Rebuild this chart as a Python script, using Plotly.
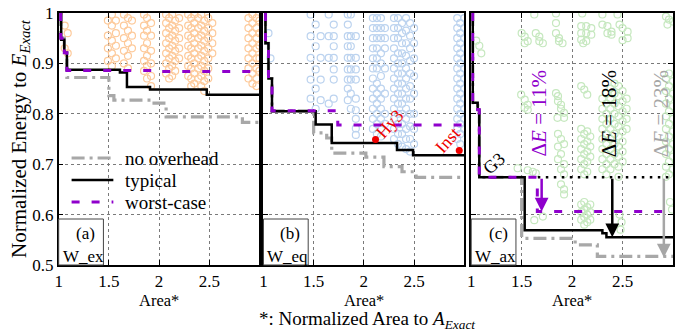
import plotly.graph_objects as go

FONT = "Liberation Serif, Times New Roman, serif"
W, H = 676, 332
PLOT_TOP, PLOT_BOT = 13, 265

# ---------------- Pareto fronts (step points: Area*, normalized energy) ----------------
ex_none_x = [1.02, 1.02, 1.056, 1.082, 1.50, 1.55, 1.93, 2.07, 2.83, 3.00]
ex_none_y = [1.00, 0.95, 0.921, 0.872, 0.836, 0.827, 0.821, 0.794, 0.783, 0.783]
ex_typ_x = [1.025, 1.025, 1.056, 1.082, 1.61, 1.68, 1.91, 2.475, 3.00]
ex_typ_y = [1.00, 0.947, 0.921, 0.8875, 0.882, 0.853, 0.848, 0.838, 0.838]
ex_wc_x = [1.02, 1.02, 1.056, 1.082, 1.97, 3.00]
ex_wc_y = [1.00, 0.95, 0.921, 0.886, 0.884, 0.884]

eq_none_x = [1.02, 1.02, 1.05, 1.085, 1.50, 1.63, 1.68, 2.02, 2.20, 2.38, 2.52, 3.00]
eq_none_y = [1.00, 0.94, 0.87, 0.806, 0.762, 0.752, 0.722, 0.714, 0.695, 0.685, 0.674, 0.674]
eq_typ_x = [1.02, 1.02, 1.05, 1.085, 1.52, 1.68, 2.33, 2.49, 3.00]
eq_typ_y = [1.00, 0.94, 0.87, 0.805, 0.779, 0.742, 0.728, 0.718, 0.718]
eq_wc_x = [1.02, 1.02, 1.05, 1.085, 1.74, 3.00]
eq_wc_y = [1.00, 0.94, 0.87, 0.806, 0.778, 0.778]

ax_none_x = [1.015, 1.015, 1.064, 1.08, 1.50, 2.03, 2.25, 3.00]
ax_none_y = [1.00, 0.822, 0.808, 0.674, 0.553, 0.540, 0.517, 0.517]
ax_typ_x = [1.015, 1.015, 1.064, 1.08, 1.53, 2.30, 2.34, 3.00]
ax_typ_y = [1.00, 0.822, 0.808, 0.674, 0.569, 0.563, 0.555, 0.555]
ax_wc_x = [1.015, 1.015, 1.064, 1.08, 1.655, 3.00]
ax_wc_y = [1.00, 0.822, 0.808, 0.674, 0.606, 0.606]

# ---------------- explored design points: (Area*, [normalized energies]) ----------------
ex_points = [
    (1.00, [1.0]), (1.06, [0.975, 0.93]), (1.09, [0.96, 0.92]),
    (1.49, [0.985, 0.955, 0.93, 0.905]),
    (1.53, [0.997, 0.975, 0.945, 0.92, 0.895]),
    (1.57, [0.985, 0.96, 0.935, 0.91]),
    (1.65, [0.997, 0.975, 0.95, 0.925, 0.90]),
    (1.69, [0.99, 0.965, 0.94, 0.915, 0.89]),
    (1.73, [0.985, 0.955, 0.93]),
    (1.85, [0.997, 0.975, 0.955, 0.93, 0.905, 0.885]),
    (1.88, [0.99, 0.965, 0.94, 0.915, 0.895, 0.87]),
    (1.92, [0.98, 0.955, 0.925, 0.90, 0.875, 0.855]),
    (2.07, [0.997, 0.98, 0.96, 0.94, 0.92, 0.90, 0.88]),
    (2.10, [0.99, 0.97, 0.95, 0.93, 0.91, 0.89, 0.87]),
    (2.13, [0.997, 0.975, 0.955, 0.935, 0.915, 0.895, 0.875]),
    (2.16, [0.985, 0.965, 0.945, 0.925, 0.905, 0.885]),
    (2.20, [0.99, 0.97, 0.95, 0.93, 0.91]),
    (2.29, [0.997, 0.975, 0.955, 0.935, 0.915, 0.895, 0.875]),
    (2.32, [0.99, 0.97, 0.95, 0.93, 0.91, 0.89, 0.87, 0.855]),
    (2.35, [0.997, 0.98, 0.96, 0.94, 0.92, 0.90, 0.88, 0.86]),
    (2.39, [0.99, 0.97, 0.95, 0.93, 0.91, 0.89, 0.87]),
    (2.42, [0.997, 0.975, 0.955, 0.935, 0.915, 0.895, 0.875, 0.855]),
    (2.45, [0.985, 0.965, 0.945, 0.925, 0.905, 0.885, 0.865, 0.845]),
    (2.49, [0.99, 0.97, 0.95, 0.93, 0.91, 0.89, 0.87]),
    (2.53, [0.98, 0.96, 0.94, 0.92]),
    (2.89, [0.99, 0.97, 0.95, 0.93, 0.91, 0.89, 0.87]),
    (2.93, [0.997, 0.98, 0.96, 0.94, 0.92, 0.90, 0.88, 0.86]),
    (2.97, [0.99, 0.97, 0.95, 0.93, 0.91, 0.89, 0.87, 0.855]),
    (3.00, [0.985, 0.96, 0.935, 0.91, 0.885]),
]

eq_points = [
    (1.05, [0.96]), (1.07, [0.91]),
    (1.47, [0.997, 0.954, 0.911, 0.868, 0.83]),
    (1.52, [0.977, 0.934, 0.888, 0.85, 0.81]),
    (1.57, [0.954, 0.911, 0.868, 0.827]),
    (1.65, [0.997, 0.954, 0.911, 0.82]),
    (1.70, [0.977, 0.954, 0.934, 0.911, 0.888, 0.868, 0.83]),
    (1.84, [0.997, 0.977, 0.954, 0.934, 0.911, 0.888, 0.868, 0.85, 0.827]),
    (1.87, [0.997, 0.954, 0.934, 0.911, 0.888, 0.868, 0.84, 0.81]),
    (1.92, [0.954, 0.911, 0.888, 0.868, 0.83, 0.807, 0.79, 0.771, 0.758]),
    (2.09, [0.99, 0.97, 0.95, 0.93, 0.91, 0.89, 0.87, 0.85, 0.83, 0.81, 0.79, 0.77]),
    (2.13, [0.99, 0.97, 0.95, 0.93, 0.91, 0.89, 0.86, 0.84, 0.82, 0.80, 0.78, 0.76]),
    (2.17, [0.99, 0.97, 0.95, 0.92, 0.90, 0.875, 0.85, 0.83, 0.81, 0.79, 0.77, 0.755]),
    (2.21, [0.97, 0.95, 0.93, 0.89, 0.84, 0.80, 0.78]),
    (2.30, [0.99, 0.97, 0.95, 0.93, 0.91, 0.89, 0.87, 0.85, 0.83, 0.81, 0.79, 0.77, 0.75]),
    (2.34, [0.99, 0.97, 0.95, 0.92, 0.90, 0.88, 0.86, 0.84, 0.82, 0.80, 0.78, 0.76, 0.74]),
    (2.38, [0.98, 0.96, 0.94, 0.92, 0.90, 0.88, 0.86, 0.84, 0.82, 0.80, 0.78, 0.76, 0.735]),
    (2.42, [0.99, 0.965, 0.94, 0.915, 0.89, 0.87, 0.85, 0.83, 0.81, 0.79, 0.77, 0.75, 0.73]),
    (2.46, [0.98, 0.955, 0.93, 0.905, 0.88, 0.855, 0.83, 0.80, 0.775, 0.75, 0.725]),
    (2.50, [0.97, 0.94, 0.91, 0.875, 0.84, 0.80, 0.77, 0.74]),
    (2.93, [0.99, 0.97, 0.95, 0.93, 0.91, 0.89, 0.87, 0.85, 0.83, 0.81, 0.79, 0.77, 0.75]),
    (2.96, [0.98, 0.96, 0.94, 0.92, 0.90, 0.88, 0.86, 0.84, 0.82, 0.80, 0.78, 0.76, 0.74]),
    (3.00, [0.99, 0.97, 0.95, 0.93, 0.91, 0.89, 0.87, 0.85, 0.83, 0.81, 0.79, 0.77]),
]

ax_points = [
    (1.05, [0.945]), (1.08, [0.935]), (1.10, [0.92]),
    (1.46, [0.692]), (1.495, [0.838]),
    (1.50, [0.96]), (1.53, [0.953, 0.94, 0.828, 0.812]), (1.56, [0.944, 0.818, 0.808, 0.688]),
    (1.61, [0.685]), (1.625, [0.997, 0.589]), (1.64, [0.96, 0.682]),
    (1.675, [0.953, 0.944]), (1.71, [0.94, 0.596]),
    (1.84, [0.999, 0.98, 0.96, 0.841]),
    (1.855, [0.792]),
    (1.86, [0.835, 0.825, 0.76, 0.735, 0.71]),
    (1.87, [0.95, 0.944]),
    (1.89, [0.818, 0.81, 0.75, 0.72, 0.69, 0.66]),
    (1.905, [0.94]),
    (1.92, [0.802, 0.792, 0.74, 0.70, 0.68, 0.65, 0.64]),
    (2.09, [0.974, 0.96, 0.947, 0.855, 0.77, 0.75, 0.73, 0.71, 0.69, 0.62, 0.605, 0.59]),
    (2.10, [0.999]),
    (2.11, [0.94]),
    (2.12, [0.848, 0.76, 0.74, 0.72, 0.70, 0.68, 0.625, 0.61, 0.595, 0.58]),
    (2.14, [0.974, 0.96, 0.944]),
    (2.15, [0.838, 0.765, 0.745, 0.725, 0.705, 0.685, 0.615, 0.60, 0.585]),
    (2.18, [0.755, 0.735, 0.715, 0.62, 0.605, 0.59]),
    (2.19, [0.97, 0.957]),
    (2.30, [0.997, 0.977, 0.83, 0.81, 0.79, 0.77, 0.75, 0.73, 0.71, 0.69]),
    (2.34, [0.84, 0.82, 0.80, 0.78, 0.76, 0.74, 0.72, 0.70, 0.68]),
    (2.35, [0.974, 0.96]),
    (2.38, [0.85, 0.83, 0.81, 0.79, 0.77, 0.75, 0.73, 0.71, 0.69]),
    (2.39, [0.963, 0.957]),
    (2.42, [0.86, 0.84, 0.82, 0.80, 0.78, 0.76, 0.74, 0.72, 0.70]),
    (2.45, [0.997]),
    (2.46, [0.855, 0.835, 0.815, 0.795, 0.775, 0.755, 0.735, 0.715, 0.695, 0.675]),
    (2.47, [0.977, 0.60]), (2.48, [0.57]), (2.49, [0.585]),
    (2.50, [0.97, 0.946, 0.845, 0.825, 0.805, 0.785, 0.765, 0.745, 0.725, 0.705]),
    (2.54, [0.83, 0.81, 0.79, 0.77]),
    (2.55, [0.963, 0.95]),
    (2.93, [0.993, 0.87, 0.845, 0.82, 0.795, 0.77, 0.745, 0.72, 0.695, 0.675]),
    (2.945, [0.977]),
    (2.96, [0.987, 0.88, 0.855, 0.83, 0.805, 0.78, 0.755, 0.73, 0.705, 0.68]),
    (2.97, [0.625]), (2.99, [0.61]),
    (3.00, [0.983, 0.865, 0.84, 0.815, 0.79, 0.765, 0.74, 0.715, 0.69]),
]

# highlighted designs in panel (b)
named_x = [2.116, 2.95]
named_y = [0.749, 0.727]
named_lbl = ["Hy3", "Inst"]
named_lbl_x = [2.255, 2.835]
named_lbl_y = [0.780, 0.748]

# energy savings annotated in panel (c)
g3_level = 0.674
delta_lbl = ["11%", "18%", "23%"]
delta_x = [1.698, 2.398, 2.909]
delta_y = [0.606, 0.555, 0.515]
delta_txt_x = [1.668, 2.36, 2.875]
delta_colors = ["#8f00cc", "black", "#a6a6a6"]

yticks = [0.5, 0.6, 0.7, 0.8, 0.9, 1.0]
ytick_text = ["0.5", "0.6", "0.7", "0.8", "0.9", "1"]
xticks = [1, 1.5, 2, 2.5, 3]

series_names = ["no overhead", "typical", "worst-case"]
C_NONE = "#a8a8a8"
C_TYP = "black"
C_WC = "#8f00cc"
LINE_STYLES = [dict(color=C_NONE, width=3.2, dash="13px,5px,3px,5px"),
               dict(color=C_TYP, width=2.5),
               dict(color=C_WC, width=3, dash="8px,12px")]
PT_COLORS = ["#fdca9b", "#bcd3ef", "#c6e8bf"]


def flatten(cols):
    xs, ys = [], []
    for x, yl in cols:
        for y in yl:
            xs.append(x)
            ys.append(y)
    return xs, ys


fig = go.Figure()

panels = [
    ("x", "y", ex_points, [(ex_none_x, ex_none_y), (ex_typ_x, ex_typ_y), (ex_wc_x, ex_wc_y)]),
    ("x2", "y2", eq_points, [(eq_none_x, eq_none_y), (eq_typ_x, eq_typ_y), (eq_wc_x, eq_wc_y)]),
    ("x3", "y3", ax_points, [(ax_none_x, ax_none_y), (ax_typ_x, ax_typ_y), (ax_wc_x, ax_wc_y)]),
]

for i, (xa, ya, pts, fronts) in enumerate(panels):
    px, py = flatten(pts)
    fig.add_trace(go.Scatter(
        x=px, y=py, xaxis=xa, yaxis=ya, mode="markers", showlegend=False,
        marker=dict(symbol="circle-open", size=7, color=PT_COLORS[i], line=dict(width=1.2)),
        hoverinfo="skip"))
    for (fx, fy), name, style in zip(fronts, series_names, LINE_STYLES):
        fig.add_trace(go.Scatter(
            x=fx, y=fy, xaxis=xa, yaxis=ya, mode="lines", line_shape="hv",
            name=name, showlegend=False, line=style))

fig.add_trace(go.Scatter(
    x=named_x, y=named_y, xaxis="x2", yaxis="y2", mode="markers", showlegend=False,
    marker=dict(color="#ee0000", size=7)))

# G3 energy level reference (dotted)
fig.add_trace(go.Scatter(
    x=[1.66, 3.0], y=[g3_level, g3_level], xaxis="x3", yaxis="y3", mode="lines",
    showlegend=False, line=dict(color="black", width=2.5, dash="2.5px,5.5px")))

domains = [(55 / W, 257 / W), (261 / W, 463 / W), (470 / W, 673 / W)]
tick_font = dict(family=FONT, size=17, color="black")
axis_common = dict(showline=True, mirror="ticks", linecolor="black", linewidth=1.5,
                   ticks="inside", ticklen=5, tickwidth=1, tickcolor="black",
                   showgrid=True, gridcolor="#7a7a7a", gridwidth=1, griddash="dot",
                   zeroline=False, tickfont=tick_font, fixedrange=True)

layout_axes = {}
for i, suffix in enumerate(["", "2", "3"]):
    xt = ["1", "1.5", "2", "2.5", "3" if i == 2 else ""]
    layout_axes["xaxis" + suffix] = dict(
        axis_common, domain=list(domains[i]), range=[1, 3], tickvals=xticks, ticktext=xt,
        anchor="y" + suffix)
    layout_axes["yaxis" + suffix] = dict(
        axis_common, domain=[0, 1], range=[0.5, 1.0], tickvals=yticks, ticktext=ytick_text,
        showticklabels=(i == 0), anchor="x" + suffix)

fig.update_layout(**layout_axes)


def px_x(pix):
    return pix / W


def py_paper(pix):
    return (PLOT_BOT - pix) / (PLOT_BOT - PLOT_TOP)


def txt(x, y, text, size=17, color="black", xref="paper", yref="paper",
        xanchor="center", angle=0):
    return dict(xref=xref, yref=yref, x=x, y=y, text=text, showarrow=False,
                xanchor=xanchor, yanchor="middle", textangle=angle,
                font=dict(family=FONT, size=size, color=color))


annotations = []
shapes = []

# legend (drawn in panel a)
for k, (name, style) in enumerate(zip(series_names, LINE_STYLES)):
    yy = py_paper(158 + 22 * k)
    shapes.append(dict(type="line", xref="paper", yref="paper", x0=px_x(68), x1=px_x(110),
                       y0=yy, y1=yy, line=style))
    annotations.append(txt(px_x(120), yy, name, size=19, xanchor="left"))

# panel tags
tags = [("(a)", "W_ex"), ("(b)", "W_eq"), ("(c)", "W_ax")]
for i, (tag, wl) in enumerate(tags):
    x0 = domains[i][0]
    shapes.append(dict(type="rect", xref="paper", yref="paper", x0=x0, x1=x0 + 45 / W,
                       y0=0, y1=py_paper(219), fillcolor="white",
                       line=dict(color="#444", width=1)))
    annotations.append(txt(x0 + 27 / W, py_paper(233), tag))
    annotations.append(txt(x0 + 2 / W, py_paper(256), wl, xanchor="left"))
    annotations.append(txt((domains[i][0] + domains[i][1]) / 2, py_paper(300.5), "Area*",
                           size=16.5))

annotations.append(txt(px_x(365), py_paper(320),
                       "*: Normalized Area to <i>A</i><sub><i>Exact</i></sub>", size=19))
annotations.append(txt(px_x(16), py_paper(138),
                       "Normalized Energy to <i>E</i><sub><i>Exact</i></sub>", size=21, angle=-90))

for lx, ly, lt in zip(named_lbl_x, named_lbl_y, named_lbl):
    annotations.append(txt(lx, ly, lt, size=18, color="#ee0000", xref="x2", yref="y2", angle=-48))

annotations.append(txt(1.23, 0.702, "G3", size=18, xref="x3", yref="y3", angle=-42))

for dl, dx, dy, tx, col in zip(delta_lbl, delta_x, delta_y, delta_txt_x, delta_colors):
    annotations.append(dict(xref="x3", yref="y3", x=dx, y=dy, ax=dx, ay=g3_level,
                            axref="x3", ayref="y3", text="", showarrow=True,
                            arrowhead=2, arrowsize=1.1, arrowwidth=2.5, arrowcolor=col,
                            standoff=0, startstandoff=0))
    annotations.append(txt(tx, 0.80, "Δ<i>E</i> = " + dl, size=21, color=col,
                           xref="x3", yref="y3", angle=-90))

fig.update_layout(
    width=W, height=H,
    margin=dict(l=0, r=0, t=PLOT_TOP, b=H - PLOT_BOT),
    paper_bgcolor="white", plot_bgcolor="white",
    font=dict(family=FONT, size=17, color="black"),
    showlegend=False,
    annotations=annotations, shapes=shapes,
)

fig.write_html("out.html", config={"displayModeBar": False})
